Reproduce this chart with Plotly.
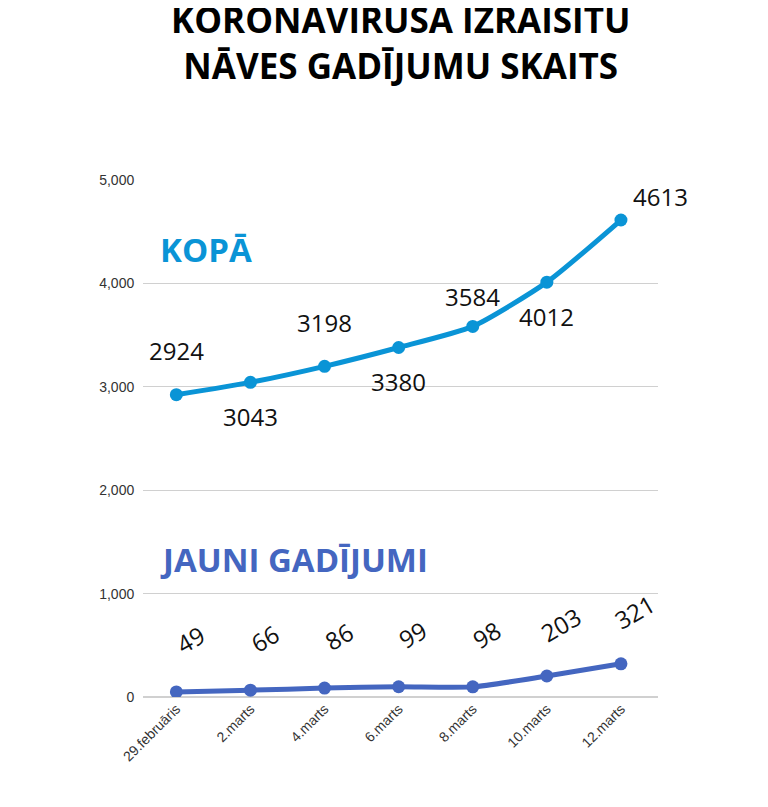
import plotly.graph_objects as go

dates = ["29.februāris", "2.marts", "4.marts", "6.marts", "8.marts", "10.marts", "12.marts"]
total = [2924, 3043, 3198, 3380, 3584, 4012, 4613]
new_cases = [49, 66, 86, 99, 98, 203, 321]
total_label_pos = ["above", "below", "above", "below", "above", "below", "above"]

BLUE = "#0A94D6"
INDIGO = "#4466C0"

fig = go.Figure()
fig.add_trace(go.Scatter(x=dates, y=total, mode="lines+markers",
                         line=dict(color=BLUE, width=5, shape="spline", smoothing=0.6),
                         marker=dict(size=13, color=BLUE), hoverinfo="x+y"))
fig.add_trace(go.Scatter(x=dates, y=new_cases, mode="lines+markers",
                         line=dict(color=INDIGO, width=5, shape="spline", smoothing=0.6),
                         marker=dict(size=13, color=INDIGO), hoverinfo="x+y"))

num_font = dict(family="Open Sans", size=24, color="#111111")
for i, (d, v) in enumerate(zip(dates, total)):
    up = total_label_pos[i] == "above"
    if i == 6:
        ys, xs = 24, 40
    elif i == 4:
        ys, xs = 30, 0
    else:
        ys, xs = (44, 0) if up else (-34, 0)
    fig.add_annotation(x=d, y=v, text=str(v), showarrow=False, font=num_font,
                       yshift=ys, xshift=xs)
for d, v in zip(dates, new_cases):
    fig.add_annotation(x=d, y=v, text=str(v), showarrow=False, font=num_font,
                       textangle=-30, yshift=52, xshift=14)

fig.add_annotation(xref="paper", yref="paper", x=0.5, y=1.36,
                   text="<b>KORONAVĪRUSA IZRAISĪTU<br>NĀVES GADĪJUMU SKAITS</b>",
                   showarrow=False,
                   font=dict(family="Open Sans", size=35, color="#000000"))
fig.add_annotation(xref="paper", yref="y", x=0.03, y=4330, xanchor="left",
                   text="<b>KOPĀ</b>", showarrow=False,
                   font=dict(family="Open Sans", size=33, color=BLUE))
fig.add_annotation(xref="paper", yref="y", x=0.03, y=1330, xanchor="left",
                   text="<b>JAUNI GADĪJUMI</b>", showarrow=False,
                   font=dict(family="Open Sans", size=33, color=INDIGO))

fig.update_layout(
    width=768, height=807, showlegend=False,
    plot_bgcolor="white", paper_bgcolor="white",
    margin=dict(l=135, r=118, t=172, b=118),
    xaxis=dict(type="category", range=[-0.45, 6.5], showgrid=False,
               tickangle=-45, ticks="",
               tickfont=dict(family="Liberation Sans", size=14, color="#333333")),
    yaxis=dict(range=[0, 5000], dtick=1000, tickformat=",", gridcolor="#D0D0D0",
               zeroline=True, zerolinecolor="#D0D0D0", ticks="", ticksuffix="  ",
               tickfont=dict(family="Liberation Sans", size=14, color="#333333")),
)

fig.write_html("out.html")
